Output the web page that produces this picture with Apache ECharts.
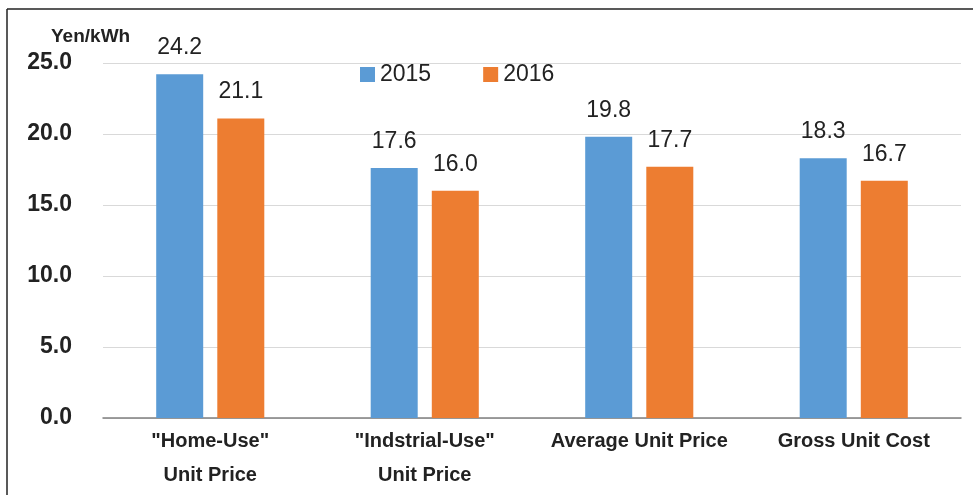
<!DOCTYPE html>
<html>
<head>
<meta charset="utf-8">
<script src="https://cdn.jsdelivr.net/npm/echarts@6/dist/echarts.min.js"></script>
<style>
  html, body { margin: 0; padding: 0; background: #fff; }
  #main { width: 973px; height: 495px; }
</style>
</head>
<body>
<div id="main"></div>
<script>
// chart data
var categories = ['"Home-Use"\nUnit Price', '"Indstrial-Use"\nUnit Price', 'Average Unit Price', 'Gross Unit Cost'];
var seriesNames = ['2015', '2016'];
var values2015 = [24.2, 17.6, 19.8, 18.3];
var values2016 = [21.1, 16.0, 17.7, 16.7];
var yTicks = { min: 0, max: 25, interval: 5 };

var font = 'Liberation Sans, Arial, sans-serif';

var labelStyle = {
  show: true,
  position: 'top',
  distance: 15,
  color: '#222',
  fontSize: 23,
  fontFamily: font,
  formatter: function (p) { return p.value.toFixed(1); }
};

var myChart = echarts.init(document.getElementById('main'));
myChart.setOption({
  animation: false,
  color: ['#5B9BD5', '#ED7D31'],
  title: {
    text: 'Yen/kWh',
    left: 46,
    top: 22,
    textStyle: { fontSize: 19, fontWeight: 'bold', color: '#222', fontFamily: font }
  },
  legend: {
    data: seriesNames,
    left: 355,
    top: 58,
    itemWidth: 15,
    itemHeight: 15,
    itemGap: 52,
    icon: 'rect',
    textStyle: { fontSize: 23, color: '#222', fontFamily: font }
  },
  grid: { left: 103, right: 12, top: 63, bottom: 77 },
  xAxis: {
    type: 'category',
    data: categories,
    axisLine: { lineStyle: { color: '#808080', width: 1.5 } },
    axisTick: { show: false },
    axisLabel: {
      color: '#222',
      fontSize: 20,
      fontWeight: 'bold',
      fontFamily: font,
      lineHeight: 34,
      margin: 6,
      interval: 0
    }
  },
  yAxis: {
    type: 'value',
    min: yTicks.min,
    max: yTicks.max,
    interval: yTicks.interval,
    axisLine: { show: false },
    axisTick: { show: false },
    splitLine: { lineStyle: { color: '#d9d9d9', width: 1 } },
    axisLabel: {
      color: '#222',
      fontSize: 23,
      fontWeight: 'bold',
      fontFamily: font,
      margin: 31,
      formatter: function (v) { return v.toFixed(1); }
    }
  },
  series: [
    {
      name: seriesNames[0],
      type: 'bar',
      data: values2015,
      barWidth: 47,
      barGap: '30%',
      label: labelStyle
    },
    {
      name: seriesNames[1],
      type: 'bar',
      data: values2016,
      barWidth: 47,
      label: labelStyle
    }
  ],
  graphic: [
    { type: 'line', shape: { x1: 7, y1: 9, x2: 973, y2: 9 }, style: { stroke: '#222', lineWidth: 1.5 } },
    { type: 'line', shape: { x1: 7, y1: 9, x2: 7, y2: 495 }, style: { stroke: '#222', lineWidth: 1.5 } }
  ]
});
</script>
</body>
</html>
